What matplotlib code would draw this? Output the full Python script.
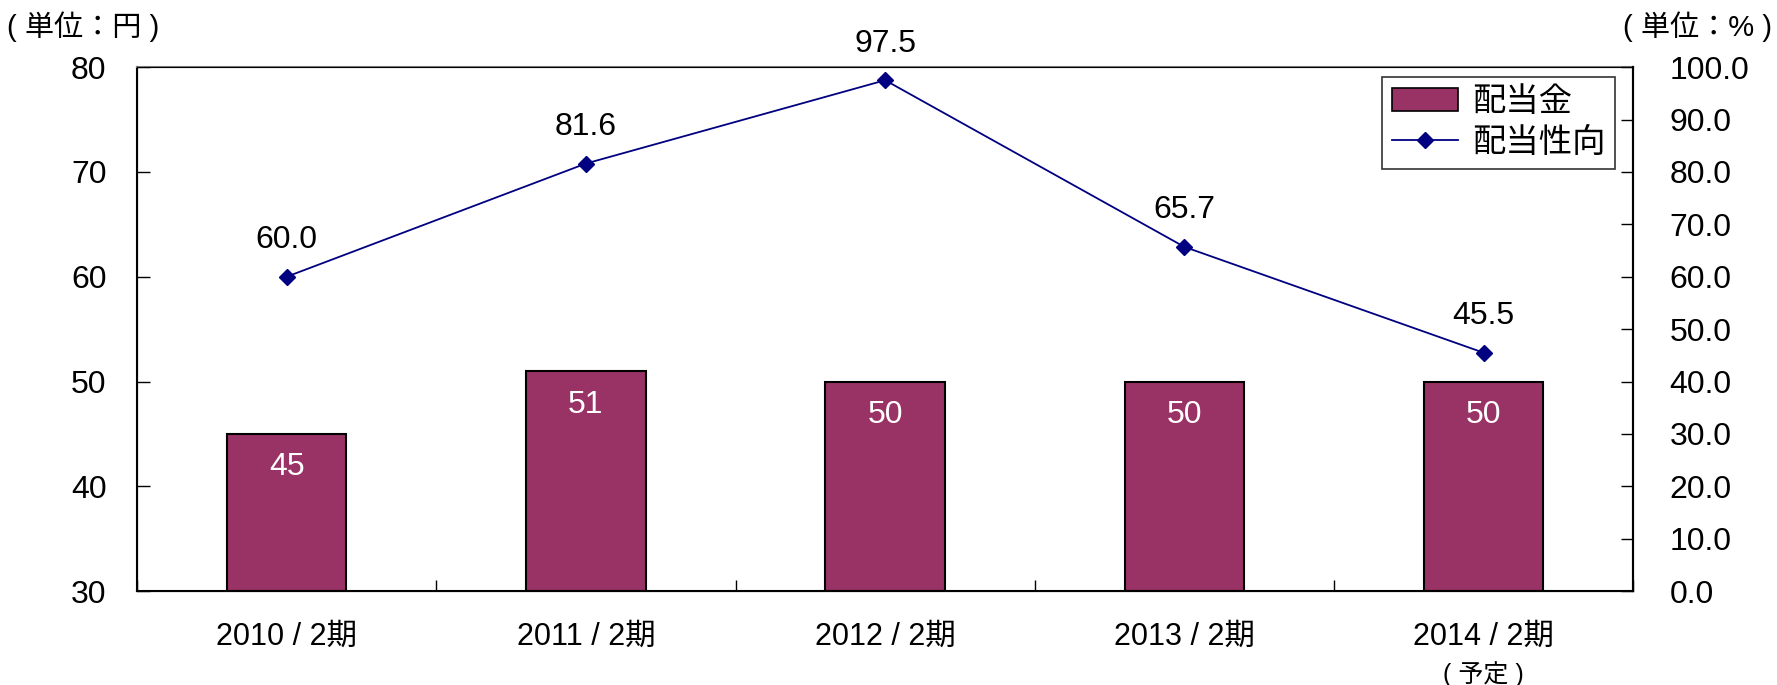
import numpy as np
import matplotlib
matplotlib.use('Agg')
import matplotlib.pyplot as plt
from matplotlib.lines import Line2D
from matplotlib.patches import Patch

plt.rcParams['font.family'] = ['Liberation Sans', 'Noto Sans CJK JP']

periods = ['2010 / 2期', '2011 / 2期', '2012 / 2期', '2013 / 2期', '2014 / 2期']
dividend = [45, 51, 50, 50, 50]
payout = [60.0, 81.6, 97.5, 65.7, 45.5]

bar_color = '#993366'
line_color = '#000080'

fig = plt.figure(figsize=(17.77, 6.85), dpi=100)
ax = fig.add_axes([0.0771, 0.137, 0.842, 0.765])
x = np.arange(len(periods))

ax.bar(x, [d - 30 for d in dividend], bottom=30, width=0.40, color=bar_color,
       edgecolor='black', linewidth=1.5, zorder=2)
for xi, d in zip(x, dividend):
    ax.text(xi, d - 3.2, str(d), ha='center', va='center', color='white', fontsize=23)

ax.set_xlim(-0.5, len(periods) - 0.5)
ax.set_ylim(30, 80)
ax.set_yticks(np.arange(30, 81, 10))
ax.set_xticks(x)
ax.set_xticklabels(periods)
ax.set_xticks(np.arange(-0.5, len(periods), 1), minor=True)
ax.tick_params(axis='x', which='major', length=0, pad=22, labelsize=22)
ax.tick_params(axis='x', which='minor', direction='in', length=8, width=1)
ax.tick_params(axis='y', direction='in', length=9, width=1, pad=22, labelsize=23)
for s in ['left', 'bottom', 'right']:
    ax.spines[s].set_linewidth(1.5)
ax.spines['top'].set_color('#808080')
ax.spines['top'].set_linewidth(1.5)

ax2 = ax.twinx()
ax2.plot(x, payout, color=line_color, linewidth=1.3, marker='D', markersize=8, zorder=3)
for xi, p in zip(x, payout):
    ax2.text(xi, p + 7.0, f'{p:.1f}', ha='center', va='center', fontsize=23)
ax2.set_ylim(0, 100)
ax2.set_yticks(np.arange(0, 101, 10))
ax2.set_yticklabels([f'{v:.1f}' for v in np.arange(0, 101, 10)])
ax2.tick_params(axis='y', direction='in', length=9, width=1, pad=26, labelsize=23)
ax2.spines['right'].set_linewidth(1.5)

fig.text(0.004, 0.961, '( 単位：円 )', fontsize=21, ha='left', va='center')
fig.text(0.997, 0.961, '( 単位：% )', fontsize=21, ha='right', va='center')
ax.text(4, -0.158, '( 予定 )', transform=ax.get_xaxis_transform(), ha='center',
        va='center', fontsize=18)

handles = [Patch(facecolor=bar_color, edgecolor='black', linewidth=1.2),
           Line2D([], [], color=line_color, marker='D', markersize=8, linewidth=1.3)]
leg = ax2.legend(handles, ['配当金', '配当性向'], loc='upper right',
                 bbox_to_anchor=(0.988, 0.981), fontsize=24, frameon=True,
                 fancybox=False, edgecolor='black', borderpad=0.3,
                 labelspacing=0.3, handlelength=2.0, handletextpad=0.4,
                 borderaxespad=0.0)
leg.get_frame().set_linewidth(1.2)

fig.savefig('out.png', dpi=100)
